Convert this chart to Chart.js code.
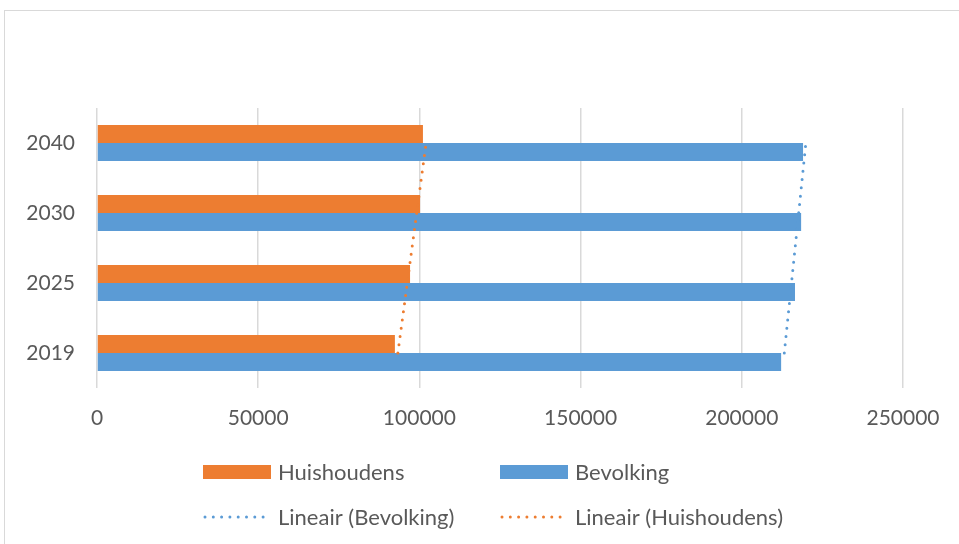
<!DOCTYPE html>
<html>
<head>
<meta charset="utf-8">
<script src="https://cdn.jsdelivr.net/npm/chart.js@4.4.1/dist/chart.umd.min.js"></script>
<style>
  html, body { margin: 0; padding: 0; background: #fff; overflow: hidden; }
  #wrap { position: absolute; left: 0; top: 0; width: 959px; height: 544px; }
  #frame { position: absolute; left: 4px; top: 10px; width: 1000px; height: 1000px; border: 1px solid #d9d9d9; pointer-events: none; }
</style>
</head>
<body>
<div id="wrap">
  <canvas id="grafiek" width="959" height="544"></canvas>
</div>
<div id="frame"></div>
<script>
// categorieen (van onder naar boven)
const jaren = ['2019', '2025', '2030', '2040'];
// waarden
const huishoudens = [92400, 97100, 100200, 101100];
const bevolking = [212200, 216500, 218400, 219000];
// as-labels
const xTicks = [0, 50000, 100000, 150000, 200000, 250000];

const oranje = '#ED7D31';
const blauw = '#5B9BD5';
const tekstKleur = '#595959';
const lettertype = 'Lato';

// lineaire trend zoals Excel die tekent (kleinste kwadraten over de index)
function lineaireTrend(waarden) {
  const n = waarden.length;
  const xs = waarden.map((_, i) => i + 1);
  const mx = xs.reduce((a, b) => a + b, 0) / n;
  const my = waarden.reduce((a, b) => a + b, 0) / n;
  let teller = 0, noemer = 0;
  xs.forEach((x, i) => {
    teller += (x - mx) * (waarden[i] - my);
    noemer += (x - mx) * (x - mx);
  });
  const helling = teller / noemer;
  return xs.map(x => my + helling * (x - mx));
}

// legenda onderaan in twee kolommen
const legendaPlugin = {
  id: 'legendaOnder',
  afterDraw(chart) {
    const ctx = chart.ctx;
    const kolommen = [203, 500];
    const rijen = [472, 517];
    ctx.save();
    ctx.font = '22px ' + lettertype;
    ctx.textBaseline = 'middle';
    ctx.textAlign = 'left';
    chart.data.datasets.forEach((ds, i) => {
      const x = kolommen[i % 2];
      const y = rijen[Math.floor(i / 2)];
      if (ds.type === 'line') {
        ctx.strokeStyle = ds.borderColor;
        ctx.lineWidth = 3;
        ctx.lineCap = 'round';
        ctx.setLineDash([0, 8.3]);
        ctx.beginPath();
        ctx.moveTo(x + 2, y);
        ctx.lineTo(x + 68, y);
        ctx.stroke();
        ctx.setLineDash([]);
      } else {
        ctx.fillStyle = ds.backgroundColor;
        ctx.fillRect(x, y - 7, 68, 14);
      }
      ctx.fillStyle = tekstKleur;
      ctx.fillText(ds.label, x + 75, y + 1);
    });
    ctx.restore();
  }
};

const ctx = document.getElementById('grafiek').getContext('2d');

const grafiek = new Chart(ctx, {
  type: 'bar',
  data: {
    labels: jaren,
    datasets: [
      {
        label: 'Huishoudens',
        data: huishoudens,
        backgroundColor: oranje,
        categoryPercentage: 0.514,
        barPercentage: 1,
        order: 2
      },
      {
        label: 'Bevolking',
        data: bevolking,
        backgroundColor: blauw,
        categoryPercentage: 0.514,
        barPercentage: 1,
        order: 2
      },
      {
        type: 'line',
        label: 'Lineair (Bevolking)',
        data: lineaireTrend(bevolking),
        borderColor: blauw,
        borderWidth: 3,
        borderDash: [0, 8.3],
        borderCapStyle: 'round',
        pointRadius: 0,
        fill: false,
        order: 1
      },
      {
        type: 'line',
        label: 'Lineair (Huishoudens)',
        data: lineaireTrend(huishoudens),
        borderColor: oranje,
        borderWidth: 3,
        borderDash: [0, 8.3],
        borderCapStyle: 'round',
        pointRadius: 0,
        fill: false,
        order: 1
      }
    ]
  },
  options: {
    indexAxis: 'y',
    responsive: false,
    animation: false,
    layout: {
      padding: { left: 0, top: 108, right: 56, bottom: 96 }
    },
    plugins: {
      legend: { display: false },
      tooltip: { enabled: false },
      title: { display: false }
    },
    scales: {
      x: {
        min: 0,
        max: 250000,
        afterBuildTicks: axis => { axis.ticks = xTicks.map(v => ({ value: v })); },
        afterFit: axis => { axis.height = 60; },
        grid: { color: '#d9d9d9', lineWidth: 1.5, drawTicks: false },
        border: { display: false },
        ticks: {
          padding: 18,
          color: tekstKleur,
          font: { family: lettertype, size: 21 },
          maxRotation: 0,
          callback: v => String(v)
        }
      },
      y: {
        reverse: true,
        afterFit: axis => { axis.width = 97; },
        grid: { display: false, drawTicks: false },
        border: { display: false },
        ticks: {
          padding: 22,
          color: tekstKleur,
          font: { family: lettertype, size: 21 }
        }
      }
    }
  },
  plugins: [legendaPlugin]
});
</script>
</body>
</html>
